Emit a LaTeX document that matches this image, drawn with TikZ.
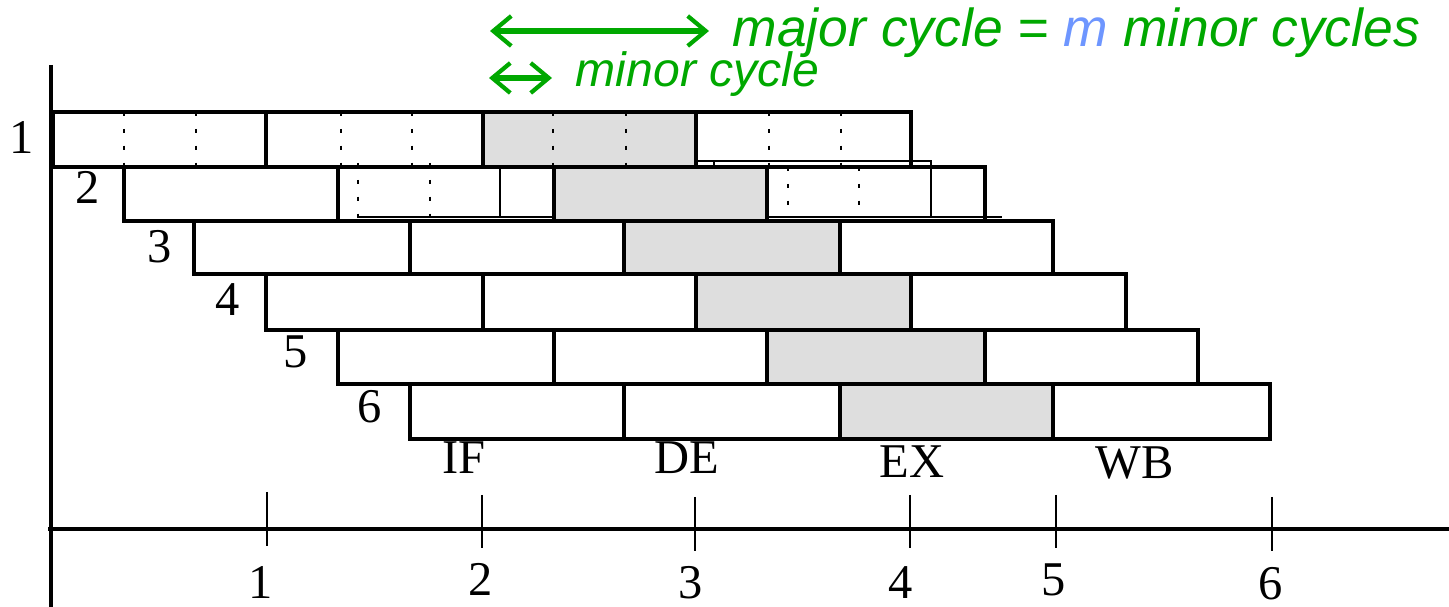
\documentclass[tikz,border=0pt]{standalone}
\usepackage{fontspec}
\setmainfont{Liberation Serif}
\newfontfamily\legendfont{Liberation Sans}
\usetikzlibrary{arrows.meta}
\definecolor{legendgreen}{RGB}{0,168,0}
\definecolor{legendblue}{RGB}{110,150,255}
\definecolor{busygray}{RGB}{222,222,222}

\begin{document}
\begin{tikzpicture}[
  cell/.style={line width=0.9pt},
  busy/.style={fill=busygray},
  minor/.style={line width=0.4pt, dash pattern=on 1.1pt off 3.7pt},
  ghost/.style={line width=0.6pt},
  axis/.style={line width=1pt},
  tick/.style={line width=0.6pt},
  num/.style={font=\fontsize{13.8}{16}\selectfont, inner sep=0pt},
  legend/.style={font=\legendfont\itshape\fontsize{#1}{18}\selectfont, text=legendgreen, inner sep=0pt, anchor=base west},
  cyclearrow/.style={legendgreen, line width=1.8pt,
    {Straight Barb[length=1.8mm,width=3mm,line width=1.2pt]}-{Straight Barb[length=1.8mm,width=3mm,line width=1.2pt]}}
]
\useasboundingbox (0,0) rectangle (14.49,6.07);

% axes
\draw[axis] (0.51,5.42) -- (0.51,0);
\draw[axis] (0.48,0.78) -- (14.49,0.78);
\draw[tick] (2.67,1.15) -- (2.67,0.61);
\draw[tick] (4.82,1.12) -- (4.82,0.59);
\draw[tick] (6.95,1.10) -- (6.95,0.56);
\draw[tick] (9.10,1.12) -- (9.10,0.59);
\draw[tick] (10.56,1.12) -- (10.56,0.59);
\draw[tick] (12.72,1.10) -- (12.72,0.56);
\node[num] (t1) at (2.61,0.24) {1};
\node[num] (t2) at (4.81,0.28) {2};
\node[num] (t3) at (6.91,0.24) {3};
\node[num] (t4) at (9.01,0.24) {4};
\node[num] (t5) at (10.54,0.27) {5};
\node[num] (t6) at (12.71,0.23) {6};

% shifted copy of the second row
\draw[ghost] (6.95,4.46) -- (9.31,4.46) -- (9.31,3.90);
\draw[ghost] (7.14,4.46) -- (7.14,4.40);
\draw[ghost] (3.57,3.90) -- (10.02,3.90);
\draw[ghost] (5.00,4.40) -- (5.00,3.90);

% execute stage
\fill[busy] (4.83,4.95) rectangle (6.96,4.40);
\fill[busy] (5.54,4.40) rectangle (7.67,3.86);
\fill[busy] (6.24,3.86) rectangle (8.40,3.33);
\fill[busy] (6.96,3.33) rectangle (9.11,2.77);
\fill[busy] (7.67,2.77) rectangle (9.85,2.23);
\fill[busy] (8.40,2.23) rectangle (10.53,1.68);

% instructions
\draw[cell] (0.535,4.95) rectangle (9.11,4.40) (2.66,4.95) -- (2.66,4.40) (4.83,4.95) -- (4.83,4.40) (6.96,4.95) -- (6.96,4.40);
\draw[cell] (1.24,4.40) rectangle (9.85,3.86) (3.38,4.40) -- (3.38,3.86) (5.54,4.40) -- (5.54,3.86) (7.67,4.40) -- (7.67,3.86);
\draw[cell] (1.94,3.86) rectangle (10.53,3.33) (4.10,3.86) -- (4.10,3.33) (6.24,3.86) -- (6.24,3.33) (8.40,3.86) -- (8.40,3.33);
\draw[cell] (2.66,3.33) rectangle (11.26,2.77) (4.83,3.33) -- (4.83,2.77) (6.96,3.33) -- (6.96,2.77) (9.11,3.33) -- (9.11,2.77);
\draw[cell] (3.38,2.77) rectangle (11.98,2.23) (5.54,2.77) -- (5.54,2.23) (7.67,2.77) -- (7.67,2.23) (9.85,2.77) -- (9.85,2.23);
\draw[cell] (4.10,2.23) rectangle (12.70,1.68) (6.24,2.23) -- (6.24,1.68) (8.40,2.23) -- (8.40,1.68) (10.53,2.23) -- (10.53,1.68);

% minor cycles
\draw[minor] (1.24,4.95) -- (1.24,4.40) (1.96,4.95) -- (1.96,4.40);
\draw[minor] (3.41,4.95) -- (3.41,4.40) (4.12,4.95) -- (4.12,4.40);
\draw[minor] (5.53,4.95) -- (5.53,4.40) (6.26,4.95) -- (6.26,4.40);
\draw[minor] (7.69,4.95) -- (7.69,4.40) (8.41,4.95) -- (8.41,4.40);
\draw[minor] (3.58,4.44) -- (3.58,3.90) (4.30,4.44) -- (4.30,3.90);
\draw[minor] (7.88,4.40) -- (7.88,3.90) (8.59,4.40) -- (8.59,3.90);

\node[num] (r1) at (0.22,4.69) {1};
\node[num] (r2) at (0.88,4.20) {2};
\node[num] (r3) at (1.60,3.60) {3};
\node[num] (r4) at (2.28,3.07) {4};
\node[num] (r5) at (2.96,2.55) {5};
\node[num] (r6) at (3.70,2.00) {6};

\node[num] (if) at (4.64,1.49) {IF};
\node[num] (de) at (6.87,1.49) {DE};
\node[num] (ex) at (9.12,1.45) {EX};
\node[num] (wb) at (11.35,1.44) {WB};

% legend
\coordinate (majorL) at (4.90,5.76);
\coordinate (majorR) at (7.09,5.76);
\coordinate (minorL) at (4.89,5.29);
\coordinate (minorR) at (5.52,5.29);
\draw[cyclearrow] (majorL) -- (majorR);
\draw[cyclearrow] (minorL) -- (minorR);
\node[legend=15.2] (major) at (7.32,5.60) {major cycle = {\color{legendblue}m} minor cycles};
\node[legend=13.7] (minor) at (5.75,5.20) {minor cycle};
\end{tikzpicture}
\end{document}
